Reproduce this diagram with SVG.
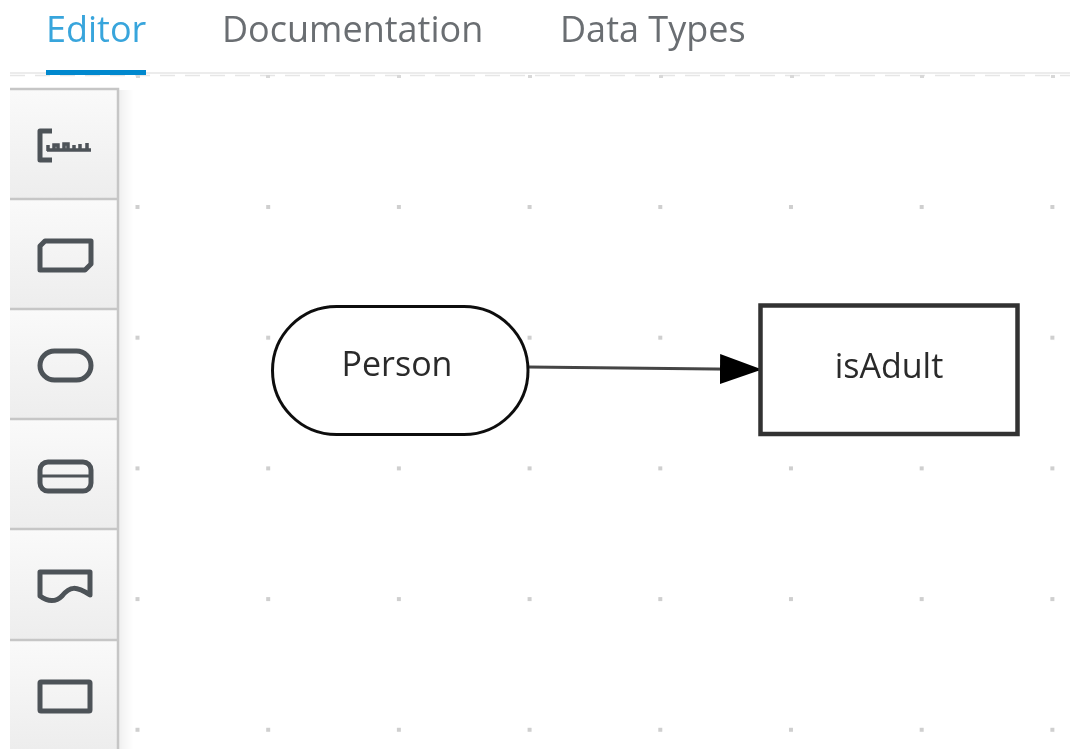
<svg xmlns="http://www.w3.org/2000/svg" width="1070" height="749" viewBox="0 0 1070 749">
<style>
.tab{font-family:"Open Sans","Noto Sans",sans-serif;font-size:36px;fill:#6a6e72}
.lbl{font-family:"Open Sans","Noto Sans",sans-serif;font-size:34px;fill:#2b2b2b;text-anchor:middle}
.btn{fill:url(#bg)}
.edge{fill:none;stroke:#c6c6c6;stroke-width:2.500}
.ic{fill:none;stroke:#4d5258;stroke-width:5;stroke-linejoin:round}
.dot{fill:#cfcfcf}
</style>
<defs>
<filter id="soft" x="0" y="0" width="100%" height="100%"><feGaussianBlur stdDeviation="0.700"/></filter>
<linearGradient id="bg" x1="0" y1="0" x2="0" y2="1"><stop offset="0" stop-color="#fafafa"/><stop offset="1" stop-color="#ededed"/></linearGradient>
<linearGradient id="sh" x1="0" y1="0" x2="1" y2="0"><stop offset="0" stop-color="#000" stop-opacity=".06"/><stop offset="1" stop-color="#000" stop-opacity="0"/></linearGradient>
<marker id="arrow" markerUnits="userSpaceOnUse" markerWidth="42" markerHeight="30" refX="42" refY="15" orient="auto"><path d="M0 0L42 15L0 30Z" fill="#000"/></marker>
<pattern id="grid" x="130.500" y="199" width="130.700" height="130.700" patternUnits="userSpaceOnUse"><rect x="5" y="6" width="4" height="4" class="dot"/></pattern>
</defs>
<rect width="1070" height="749" fill="#fff"/>
<g filter="url(#soft)">
<g id="tabs">
<text class="tab" x="46" y="42" style="fill:#39a5dc">Editor</text>
<text class="tab" x="222" y="42">Documentation</text>
<text class="tab" x="560" y="42">Data Types</text>
</g>
<line x1="10" y1="73" x2="1070" y2="73" stroke="#ececec" stroke-width="2"/>
<line x1="10" y1="75.500" x2="1070" y2="75.500" stroke="#e6e6e6" stroke-width="1.500" stroke-dasharray="15 10"/>
<rect x="46" y="70" width="100" height="5" fill="#0088ce"/>
<rect x="130" y="199" width="940" height="550" fill="url(#grid)"/>
<g fill="#d8d8d8"><rect x="266" y="75" width="4" height="3"/><rect x="397" y="75" width="4" height="3"/><rect x="528" y="75" width="4" height="3"/><rect x="659" y="75" width="4" height="3"/><rect x="790" y="75" width="4" height="3"/><rect x="920" y="75" width="4" height="3"/><rect x="1051" y="75" width="4" height="3"/><rect x="136" y="75" width="4" height="3"/></g>
<rect x="119" y="90" width="14" height="659" fill="url(#sh)"/>
<g id="toolbar">
<rect class="btn" x="10" y="89" width="108" height="110"/>
<rect class="btn" x="10" y="199" width="108" height="110"/>
<rect class="btn" x="10" y="309" width="108" height="110"/>
<rect class="btn" x="10" y="419" width="108" height="110"/>
<rect class="btn" x="10" y="529" width="108" height="111"/>
<rect class="btn" x="10" y="640" width="108" height="109"/>
<path class="edge" d="M10 89H118V749M10 199H118M10 309H118M10 419H118M10 529H118M10 640H118"/>
<path class="ic" d="M52 131H40V160H52"/>
<path d="M48 151V145M54 151V145H58V151M64 151V144H68V151M74 151V145M80 151V144M87 151V143M47 150H91" fill="none" stroke="#4d5258" stroke-width="3.500"/>
<path class="ic" d="M45 241H91V264L85 270H40V246Z"/>
<rect class="ic" x="40" y="351" width="51" height="29" rx="14.500"/>
<rect class="ic" x="40" y="462" width="51" height="29" rx="8"/>
<line x1="40" y1="476" x2="91" y2="476" stroke="#4d5258" stroke-width="3"/>
<path class="ic" d="M40 572H90V595C76 586 70 586 62 596C56 602 48 602 40 596Z"/>
<rect class="ic" x="40" y="682" width="50" height="29" rx="1"/>
</g>
<g id="connectors">
<line x1="528" y1="367" x2="762" y2="369.500" stroke="#444" stroke-width="3" marker-end="url(#arrow)"/>
</g>
<g id="person">
<rect x="272.500" y="306.500" width="255.500" height="128" rx="64" fill="#fff" stroke="#111" stroke-width="3"/>
<text class="lbl" x="397" y="376">Person</text>
</g>
<g id="isAdult">
<rect x="760.500" y="305.500" width="257" height="128.500" fill="#fff" stroke="#333" stroke-width="4.500"/>
<text class="lbl" x="889" y="378">isAdult</text>
</g>
</g>
</svg>
